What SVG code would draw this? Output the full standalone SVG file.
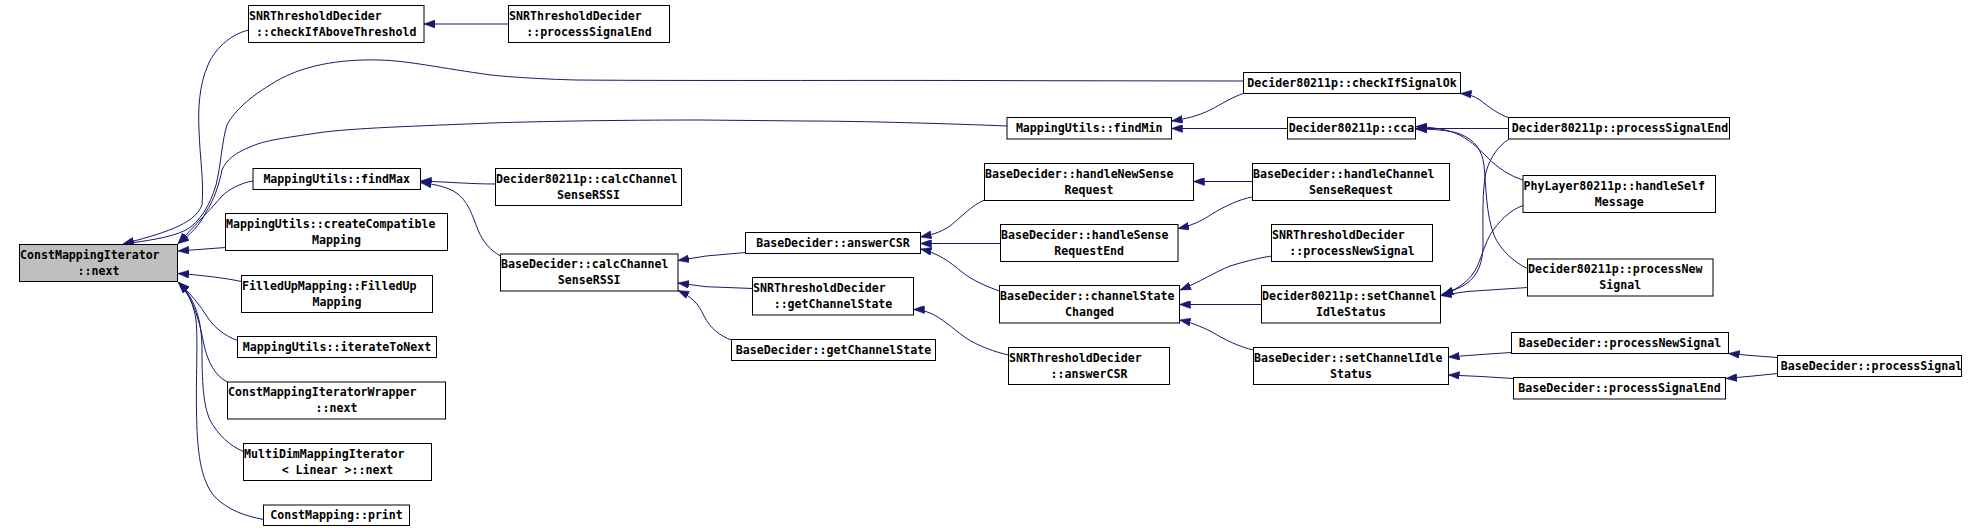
<svg xmlns="http://www.w3.org/2000/svg" width="1977" height="532" viewBox="0 0 1977 532">
<style>
.node rect{fill:#fff;stroke:#000;stroke-width:1}
.node.main rect{fill:#bfbfbf}
.edges path{fill:none;stroke:#191970;stroke-width:1}
text{font-family:"DejaVu Sans Mono","Liberation Mono",monospace;font-size:11.6px;font-weight:bold;fill:#000}
.c{text-anchor:middle}
</style>
<defs>
<marker id="ah" markerUnits="userSpaceOnUse" viewBox="0 0 11 8" refX="11" refY="4" markerWidth="11" markerHeight="8" orient="auto"><path d="M0,0 L11,4 L0,8 z" fill="#191970" stroke="#191970" stroke-width="0.5"/></marker>
</defs>
<rect width="1977" height="532" fill="#fff"/>
<g class="edges" marker-end="url(#ah)">
<path d="M248.5,30 C225,36 212,55 208,65 C199,85 198,110 199,130 C200,160 204,180 202,205 C195,225 160,234 123,244" marker-end="url(#ah)"/>
<path d="M1243.5,81 L1028,80.7 C900,80 700,81 576,80 C540,79 510,77 491,75 C440,68 410,61 380,60 C340,59 300,65 270,85 C245,100 232,115 227,125 C222,140 221,165 216,185 C210,205 200,222 186,230 C170,238 145,241 123,244" marker-end="url(#ah)"/>
<path d="M1007,126 C960,124 860,121 805,121 L700,120 C600,120 520,122 491,123 C420,126 350,128 317,133 C285,138 265,140 250,147 C235,153 226,160 222,170 C219,185 214,200 206,212 C200,225 190,235 178,243.5" marker-end="url(#ah)"/>
<path d="M253,181 C240,183 228,190 222,196 C212,208 195,225 178,243.5" marker-end="url(#ah)"/>
<path d="M225.5,247.5 L178,251" marker-end="url(#ah)"/>
<path d="M241.5,281.5 C225,278 200,275 178,273.5" marker-end="url(#ah)"/>
<path d="M237.5,340.5 C225,336 215,328 208,318 C200,305 190,293 178.5,282.5" marker-end="url(#ah)"/>
<path d="M227.5,382 C215,376 208,362 204,345 C200,325 195,300 178.5,282.5" marker-end="url(#ah)"/>
<path d="M243.5,451.5 C230,446 218,435 210,420 C203,405 202,380 202,350 C202,320 195,298 178.5,282.5" marker-end="url(#ah)"/>
<path d="M263.5,519.5 C245,516 228,510 215,497 C200,480 197,450 196.5,410 C196,370 198,340 196,320 C194,305 188,292 178.5,282.5" marker-end="url(#ah)"/>
<path d="M508.5,24 L424,24" marker-end="url(#ah)"/>
<path d="M495.5,184 C470,184 450,182 420.5,181" marker-end="url(#ah)"/>
<path d="M500.5,256 C490,250 483,242 478,230 C472,215 468,200 455,192 C445,186 432,184 420.5,182.5" marker-end="url(#ah)"/>
<path d="M745.5,252.5 L706,256 L678,260.5" marker-end="url(#ah)"/>
<path d="M752.5,288.5 L706,286.7 L678,283" marker-end="url(#ah)"/>
<path d="M731.5,340 C720,336 710,328 704,316 C698,303 692,297 678,290.5" marker-end="url(#ah)"/>
<path d="M984.5,200 C972,205 960,218 950,226 C940,233 930,235 920.5,237" marker-end="url(#ah)"/>
<path d="M1000.5,243.5 L920.5,243.5" marker-end="url(#ah)"/>
<path d="M999.5,291 C985,286 972,280 962,272 C950,262 938,253 920.5,249" marker-end="url(#ah)"/>
<path d="M1252.5,181.5 L1193.5,181.5" marker-end="url(#ah)"/>
<path d="M1252.5,197 C1240,199 1225,206 1212,214 C1200,222 1190,226 1178,228.5" marker-end="url(#ah)"/>
<path d="M1271.5,256 C1258,258 1243,262 1230,266 C1215,272 1200,282 1180,290" marker-end="url(#ah)"/>
<path d="M1261.5,304.5 L1179.5,304.5" marker-end="url(#ah)"/>
<path d="M1253.5,350 C1240,347 1225,340 1212,332 C1200,326 1190,322 1179.5,320" marker-end="url(#ah)"/>
<path d="M1008.5,355 C995,352 978,346 966,338 C952,328 942,318 930,313 C922,310 918,309.5 913.5,309.5" marker-end="url(#ah)"/>
<path d="M1243.5,93.5 C1232,97 1222,104 1210,110 C1198,116 1185,119 1171.5,121" marker-end="url(#ah)"/>
<path d="M1287.5,128.5 L1171.5,128.5" marker-end="url(#ah)"/>
<path d="M1508.5,117.5 C1500,115 1490,108 1480,100 C1474,96 1468,94 1460.5,93.5" marker-end="url(#ah)"/>
<path d="M1508.5,128.5 L1415.5,128.5" marker-end="url(#ah)"/>
<path d="M1523,180 C1510,176 1498,168 1488,158 C1478,148 1468,138 1455,133 C1445,129 1430,127 1416,126.5" marker-end="url(#ah)"/>
<path d="M1527.5,268.5 C1515,263 1500,250 1494,235 C1486,215 1486,185 1484,165 C1482,150 1475,140 1460,134 C1450,130 1430,129 1416,129" marker-end="url(#ah)"/>
<path d="M1508.5,139.5 C1498,146 1490,158 1486,172 C1482,190 1483,220 1483,245 C1483,262 1478,276 1466,284 C1458,289 1450,292 1442.5,294" marker-end="url(#ah)"/>
<path d="M1523,205.5 C1510,210 1498,222 1490,235 C1482,250 1480,265 1472,275 C1465,284 1455,290 1442.5,295" marker-end="url(#ah)"/>
<path d="M1527.5,287.5 L1467,291.5 L1440.5,295.5" marker-end="url(#ah)"/>
<path d="M1511.5,352.5 L1481,354.5 L1448.5,357" marker-end="url(#ah)"/>
<path d="M1513.5,378.5 L1481,376.5 L1448.5,375" marker-end="url(#ah)"/>
<path d="M1777.5,357.5 L1753,355.7 L1728.5,353.5" marker-end="url(#ah)"/>
<path d="M1777.5,373.5 L1753,376 L1726,378.5" marker-end="url(#ah)"/>
</g>
<g id="n_next" class="node main"><rect x="19.5" y="244.5" width="158" height="37"/><text x="20" y="258.5">ConstMappingIterator</text><text class="c" x="98.5" y="274.5">::next</text></g>
<g id="n_checkAbove" class="node"><rect x="248.5" y="5.5" width="175.5" height="37"/><text x="249" y="19.5">SNRThresholdDecider</text><text class="c" x="336.2" y="35.5">::checkIfAboveThreshold</text></g>
<g id="n_snrProcSigEnd" class="node"><rect x="508.5" y="5.5" width="161" height="37"/><text x="509" y="19.5">SNRThresholdDecider</text><text class="c" x="589" y="35.5">::processSignalEnd</text></g>
<g id="n_findMax" class="node"><rect x="253" y="168.5" width="167.5" height="21"/><text class="c" x="336.7" y="182.5">MappingUtils::findMax</text></g>
<g id="n_d80CalcRSSI" class="node"><rect x="495.5" y="168.5" width="186" height="37"/><text x="496" y="182.5">Decider80211p::calcChannel</text><text class="c" x="588.5" y="198.5">SenseRSSI</text></g>
<g id="n_createCompat" class="node"><rect x="225.5" y="213.5" width="222" height="37"/><text x="226" y="227.5">MappingUtils::createCompatible</text><text class="c" x="336.5" y="243.5">Mapping</text></g>
<g id="n_bdCalcRSSI" class="node"><rect x="500.5" y="254" width="177.5" height="37"/><text x="501" y="268">BaseDecider::calcChannel</text><text class="c" x="589.2" y="284">SenseRSSI</text></g>
<g id="n_filledUp" class="node"><rect x="241.5" y="275.5" width="191" height="37"/><text x="242" y="289.5">FilledUpMapping::FilledUp</text><text class="c" x="337" y="305.5">Mapping</text></g>
<g id="n_iterateToNext" class="node"><rect x="237.5" y="336.5" width="199" height="21"/><text class="c" x="337" y="350.5">MappingUtils::iterateToNext</text></g>
<g id="n_wrapper" class="node"><rect x="227.5" y="382" width="218" height="37"/><text x="228" y="396">ConstMappingIteratorWrapper</text><text class="c" x="336.5" y="412">::next</text></g>
<g id="n_multiDim" class="node"><rect x="243.5" y="443.5" width="188" height="37"/><text x="244" y="457.5">MultiDimMappingIterator</text><text class="c" x="337.5" y="473.5">&lt; Linear &gt;::next</text></g>
<g id="n_print" class="node"><rect x="263.5" y="505" width="146" height="20.5"/><text class="c" x="336.5" y="519">ConstMapping::print</text></g>
<g id="n_findMin" class="node"><rect x="1007" y="117.5" width="164.5" height="21.5"/><text class="c" x="1089.2" y="131.5">MappingUtils::findMin</text></g>
<g id="n_checkSigOk" class="node"><rect x="1243.5" y="72.5" width="217" height="21"/><text class="c" x="1352" y="86.5">Decider80211p::checkIfSignalOk</text></g>
<g id="n_cca" class="node"><rect x="1287.5" y="117.5" width="128" height="21.5"/><text class="c" x="1351.5" y="131.5">Decider80211p::cca</text></g>
<g id="n_handleNewSense" class="node"><rect x="984.5" y="163.5" width="209" height="37"/><text x="985" y="177.5">BaseDecider::handleNewSense</text><text class="c" x="1089" y="193.5">Request</text></g>
<g id="n_handleChanSense" class="node"><rect x="1252.5" y="163.5" width="197" height="37"/><text x="1253" y="177.5">BaseDecider::handleChannel</text><text class="c" x="1351" y="193.5">SenseRequest</text></g>
<g id="n_answerCSR" class="node"><rect x="745.5" y="232.5" width="175" height="21"/><text class="c" x="833" y="246.5">BaseDecider::answerCSR</text></g>
<g id="n_handleSenseEnd" class="node"><rect x="1000.5" y="224.5" width="177.5" height="37"/><text x="1001" y="238.5">BaseDecider::handleSense</text><text class="c" x="1089.2" y="254.5">RequestEnd</text></g>
<g id="n_snrProcNewSig" class="node"><rect x="1271.5" y="224.5" width="161" height="37"/><text x="1272" y="238.5">SNRThresholdDecider</text><text class="c" x="1352" y="254.5">::processNewSignal</text></g>
<g id="n_snrGetChan" class="node"><rect x="752.5" y="277.5" width="161" height="37.5"/><text x="753" y="291.5">SNRThresholdDecider</text><text class="c" x="833" y="307.5">::getChannelState</text></g>
<g id="n_bdGetChan" class="node"><rect x="731.5" y="339.5" width="204" height="21"/><text class="c" x="833.5" y="353.5">BaseDecider::getChannelState</text></g>
<g id="n_chanStateChanged" class="node"><rect x="999.5" y="285.5" width="180" height="37.5"/><text x="1000" y="299.5">BaseDecider::channelState</text><text class="c" x="1089.5" y="315.5">Changed</text></g>
<g id="n_snrAnswerCSR" class="node"><rect x="1008.5" y="347.5" width="161" height="37"/><text x="1009" y="361.5">SNRThresholdDecider</text><text class="c" x="1089" y="377.5">::answerCSR</text></g>
<g id="n_d80SetIdle" class="node"><rect x="1261.5" y="285.5" width="179" height="37.5"/><text x="1262" y="299.5">Decider80211p::setChannel</text><text class="c" x="1351" y="315.5">IdleStatus</text></g>
<g id="n_bdSetIdle" class="node"><rect x="1253.5" y="347.5" width="195" height="37"/><text x="1254" y="361.5">BaseDecider::setChannelIdle</text><text class="c" x="1351" y="377.5">Status</text></g>
<g id="n_d80ProcSigEnd" class="node"><rect x="1508.5" y="117.5" width="221" height="21.5"/><text class="c" x="1620" y="131.5">Decider80211p::processSignalEnd</text></g>
<g id="n_handleSelf" class="node"><rect x="1523" y="175.5" width="192.5" height="37"/><text x="1523.5" y="189.5">PhyLayer80211p::handleSelf</text><text class="c" x="1619.2" y="205.5">Message</text></g>
<g id="n_d80ProcNewSig" class="node"><rect x="1527.5" y="259" width="185.5" height="37"/><text x="1528" y="273">Decider80211p::processNew</text><text class="c" x="1620.2" y="289">Signal</text></g>
<g id="n_bdProcNewSig" class="node"><rect x="1511.5" y="332.5" width="217" height="21"/><text class="c" x="1620" y="346.5">BaseDecider::processNewSignal</text></g>
<g id="n_bdProcSigEnd" class="node"><rect x="1513.5" y="377.5" width="212" height="21.5"/><text class="c" x="1619.5" y="391.5">BaseDecider::processSignalEnd</text></g>
<g id="n_bdProcSignal" class="node"><rect x="1777.5" y="355.5" width="184" height="21"/><text class="c" x="1871.5" y="369.5">BaseDecider::processSignal</text></g>
</svg>
